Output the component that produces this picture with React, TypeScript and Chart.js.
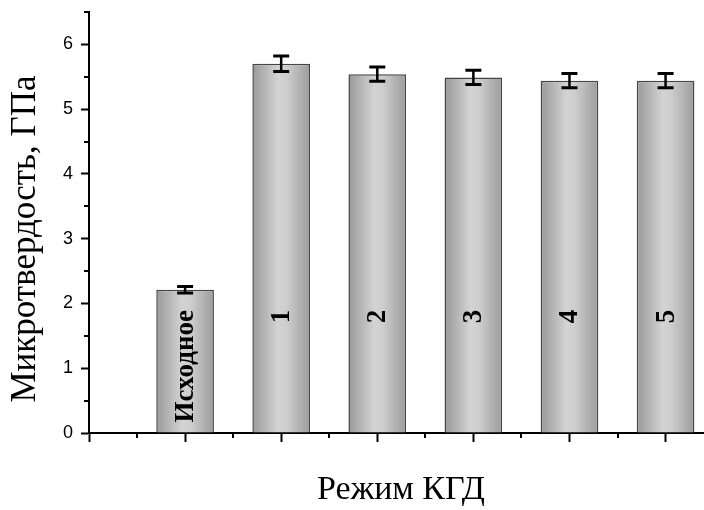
import React, { useEffect, useRef } from "react";
import { Chart, registerables } from "chart.js";

Chart.register(...registerables);

// Microhardness by HPT mode
const categories = ["Исходное", "1", "2", "3", "4", "5"];
const positions = [1, 2, 3, 4, 5, 6];
const hardness = [2.21, 5.7, 5.54, 5.49, 5.44, 5.44];
const errors = [0.05, 0.12, 0.11, 0.11, 0.11, 0.11];
const yMajorTicks = [0, 1, 2, 3, 4, 5, 6];
const xTitle = "Режим КГД";
const yTitle = "Микротвердость, ГПа";

const SERIF = '"Liberation Serif", "Times New Roman", serif';
const SANS = '"Liberation Sans", Arial, sans-serif';

const barGradient = (ctx: any) => {
  const chart = ctx.chart;
  const xs = chart.scales?.x;
  if (!xs || ctx.raw == null || !chart.chartArea) return "#bdbdbd";
  const cx = xs.getPixelForValue(ctx.raw.x);
  const half = (xs.getPixelForValue(1) - xs.getPixelForValue(0)) * 0.3;
  const g = chart.ctx.createLinearGradient(cx - half, 0, cx + half, 0);
  g.addColorStop(0, "#999999");
  g.addColorStop(0.45, "#d3d3d3");
  g.addColorStop(0.6, "#cdcdcd");
  g.addColorStop(1, "#9c9c9c");
  return g;
};

// error bars, bar captions, axis titles and minor tick marks
const decorations = {
  id: "decorations",
  afterDatasetsDraw(chart: any) {
    const { ctx, scales } = chart;
    const xs = scales.x;
    const ys = scales.y;
    ctx.save();
    ctx.strokeStyle = "#000";
    positions.forEach((p, i) => {
      const x = xs.getPixelForValue(p);
      const yTop = ys.getPixelForValue(hardness[i] + errors[i]);
      const yBot = ys.getPixelForValue(hardness[i] - errors[i]);
      ctx.lineWidth = 2.5;
      ctx.beginPath();
      ctx.moveTo(x, yTop);
      ctx.lineTo(x, yBot);
      ctx.stroke();
      ctx.lineWidth = 3;
      ctx.beginPath();
      ctx.moveTo(x - 8, yTop);
      ctx.lineTo(x + 8, yTop);
      ctx.moveTo(x - 8, yBot);
      ctx.lineTo(x + 8, yBot);
      ctx.stroke();
    });
    // captions inside the bars
    ctx.fillStyle = "#000";
    ctx.font = `bold 27px ${SERIF}`;
    ctx.textAlign = "center";
    ctx.textBaseline = "middle";
    positions.forEach((p, i) => {
      const x = xs.getPixelForValue(p);
      const y = ys.getPixelForValue(i === 0 ? 1.03 : 1.8);
      ctx.save();
      ctx.translate(x + 1, y);
      ctx.rotate(-Math.PI / 2);
      ctx.fillText(categories[i], 0, 0);
      ctx.restore();
    });
    ctx.restore();
  },
  afterDraw(chart: any) {
    const { ctx, scales } = chart;
    const xs = scales.x;
    const ys = scales.y;
    const area = chart.chartArea;
    ctx.save();
    ctx.strokeStyle = "#000";
    ctx.lineWidth = 2;
    ctx.beginPath();
    for (let v = 0.5; v <= ys.max + 1e-6; v += 1) {
      const y = Math.round(ys.getPixelForValue(v));
      ctx.moveTo(area.left - 5, y);
      ctx.lineTo(area.left, y);
    }
    for (let v = 0.5; v <= xs.max + 1e-6; v += 1) {
      const x = Math.round(xs.getPixelForValue(v));
      ctx.moveTo(x, area.bottom);
      ctx.lineTo(x, area.bottom + 5);
    }
    ctx.stroke();

    // axis titles
    ctx.fillStyle = "#000";
    ctx.textAlign = "center";
    ctx.textBaseline = "middle";
    ctx.font = `34px ${SERIF}`;
    ctx.fillText(xTitle, 401, 490);
    ctx.save();
    ctx.font = `35px ${SERIF}`;
    ctx.translate(26, 239);
    ctx.rotate(-Math.PI / 2);
    ctx.fillText(yTitle, 0, 0);
    ctx.restore();
    ctx.restore();
  },
};

export default function App() {
  const canvasRef = useRef<HTMLCanvasElement | null>(null);

  useEffect(() => {
    const canvas = canvasRef.current;
    if (!canvas) return;
    const chart = new Chart(canvas, {
      type: "bar",
      data: {
        datasets: [
          {
            data: positions.map((p, i) => ({ x: p, y: hardness[i] })),
            backgroundColor: barGradient,
            borderColor: "#454545",
            borderWidth: 1.5,
            categoryPercentage: 1,
            barPercentage: 0.6,
          },
        ],
      },
      options: {
        responsive: false,
        animation: false,
        events: [],
        layout: { padding: { top: 12, left: 0, right: 0, bottom: 0 } },
        plugins: {
          legend: { display: false },
          tooltip: { enabled: false },
        },
        scales: {
          x: {
            type: "linear",
            min: 0,
            max: 6.4,
            offset: false,
            ticks: { display: false, stepSize: 1, includeBounds: false },
            grid: {
              offset: false,
              drawOnChartArea: false,
              drawTicks: true,
              tickLength: 9,
              tickWidth: 2,
              tickColor: "#000",
              color: "#000",
            },
            border: { display: true, color: "#000", width: 2 },
            afterFit: (s: any) => {
              s.height = 77;
              s.paddingLeft = 0;
              s.paddingRight = 0;
            },
          },
          y: {
            min: 0,
            max: 6.5,
            afterBuildTicks: (s: any) => {
              s.ticks = yMajorTicks.map((v) => ({ value: v }));
            },
            ticks: {
              color: "#000",
              font: { family: SANS, size: 18 },
              padding: 8,
            },
            grid: {
              drawOnChartArea: false,
              drawTicks: true,
              tickLength: 8,
              tickWidth: 2,
              tickColor: "#000",
              color: "#000",
            },
            border: { display: true, color: "#000", width: 2 },
            afterFit: (s: any) => {
              s.width = 89;
              s.paddingTop = 0;
              s.paddingBottom = 0;
            },
          },
        },
      },
      plugins: [decorations],
    });
    return () => chart.destroy();
  }, []);

  return (
    <div style={{ position: "fixed", left: 0, top: 0, width: 704, height: 510, background: "#fff" }}>
      <canvas ref={canvasRef} width={704} height={510} style={{ display: "block" }} />
    </div>
  );
}
